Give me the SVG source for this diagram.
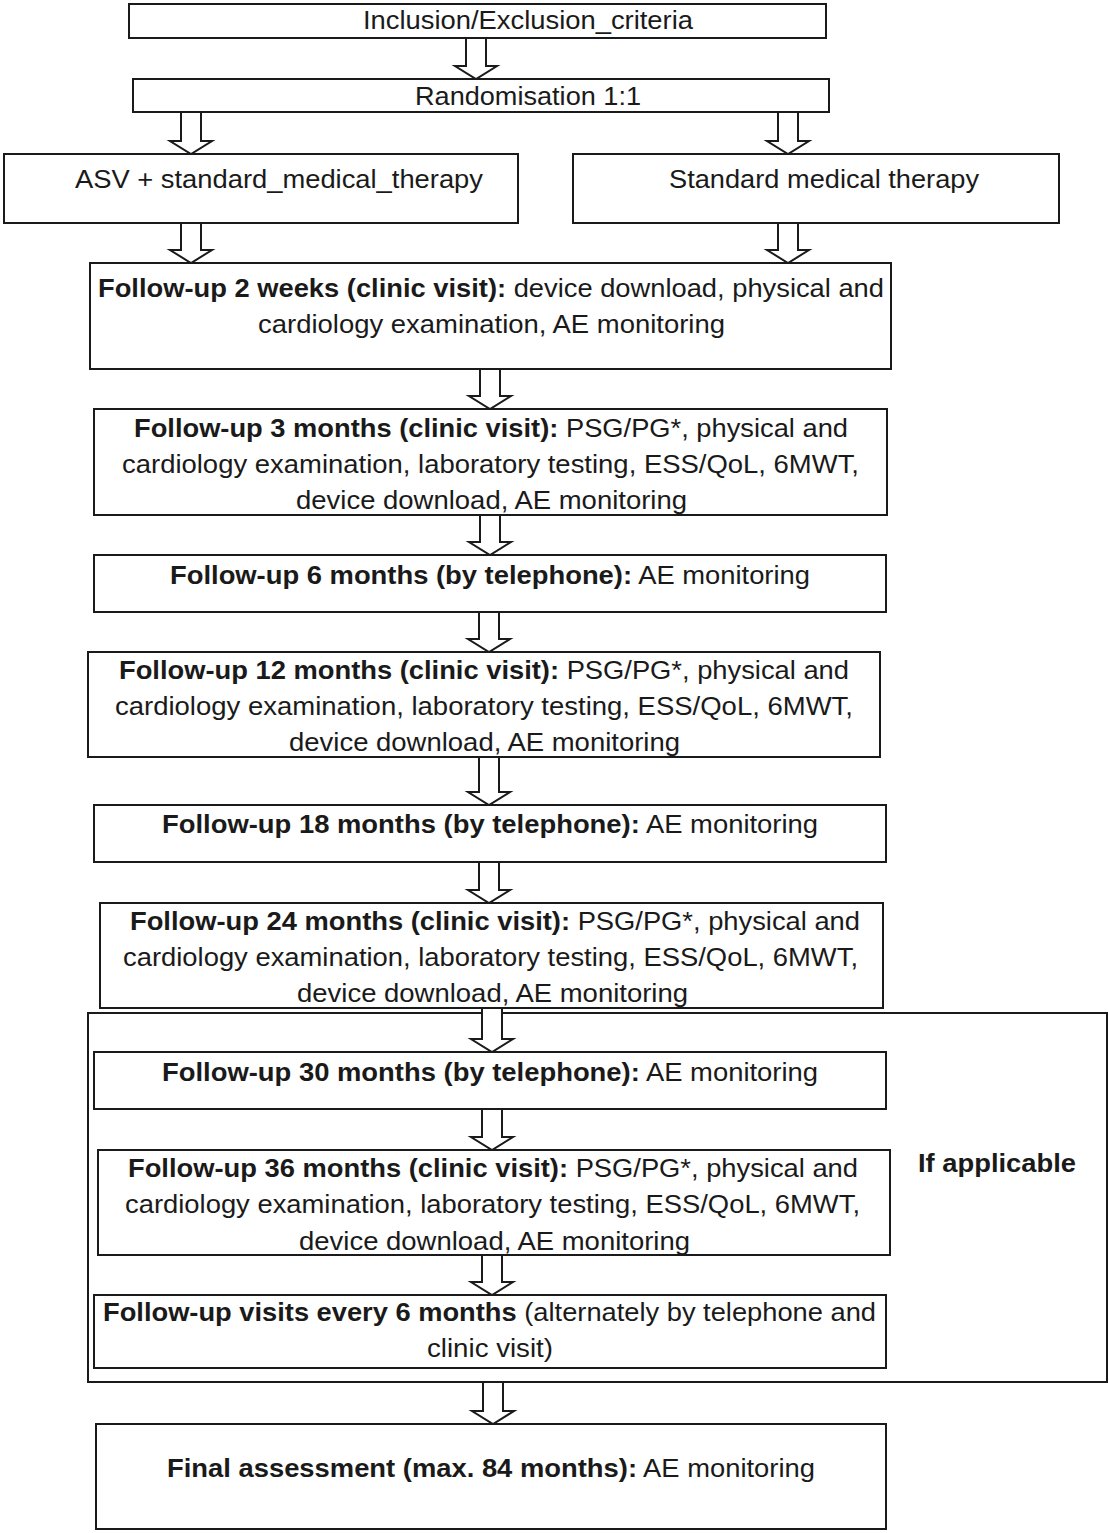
<svg xmlns="http://www.w3.org/2000/svg" width="1109" height="1533" viewBox="0 0 1109 1533">
<style>
.box{fill:#fff;stroke:#1a1a1a;stroke-width:2}
.outer{fill:none;stroke:#1a1a1a;stroke-width:2}
.arr{fill:#fff;stroke:#1a1a1a;stroke-width:2;stroke-linejoin:miter}
text{font-family:"Liberation Sans",Arial,sans-serif;font-size:25px;fill:#1a1a1a}
.b{font-weight:bold}
</style>
<rect width="1109" height="1533" fill="#fff"/>
<g id="group-if-applicable">
<rect class="outer" x="88" y="1013" width="1019" height="369"/>
<text class="b" x="918" y="1172" textLength="158" lengthAdjust="spacingAndGlyphs">If applicable</text>
</g>
<g id="connectors">
<polygon class="arr" points="466,38 486,38 486,66 497,66 476,79 455,66 466,66"/>
<polygon class="arr" points="181,112 201,112 201,141 212,141 191,154 170,141 181,141"/>
<polygon class="arr" points="778,112 798,112 798,141 809,141 788,154 767,141 778,141"/>
<polygon class="arr" points="181,223 201,223 201,250 212,250 191,263 170,250 181,250"/>
<polygon class="arr" points="778,223 798,223 798,250 809,250 788,263 767,250 778,250"/>
<polygon class="arr" points="480,369 500,369 500,396 511,396 490,409 469,396 480,396"/>
<polygon class="arr" points="480,515 500,515 500,542 511,542 490,555 469,542 480,542"/>
<polygon class="arr" points="479,612 499,612 499,639 510,639 489,652 468,639 479,639"/>
<polygon class="arr" points="479,757 499,757 499,792 510,792 489,805 468,792 479,792"/>
<polygon class="arr" points="479,862 499,862 499,890 510,890 489,903 468,890 479,890"/>
<polygon class="arr" points="482,1008 502,1008 502,1039 513,1039 492,1052 471,1039 482,1039"/>
<polygon class="arr" points="482,1109 502,1109 502,1137 513,1137 492,1150 471,1137 482,1137"/>
<polygon class="arr" points="482,1255 502,1255 502,1282 513,1282 492,1295 471,1282 482,1282"/>
<polygon class="arr" points="483,1382 503,1382 503,1411 514,1411 493,1424 472,1411 483,1411"/>
</g>
<g id="node-inclusion">
<rect class="box" x="129" y="4" width="697" height="34"/>
<text x="363" y="29" textLength="330" lengthAdjust="spacingAndGlyphs">Inclusion/Exclusion_criteria</text>
</g>
<g id="node-randomisation">
<rect class="box" x="133" y="79" width="696" height="33"/>
<text x="415" y="105" textLength="226" lengthAdjust="spacingAndGlyphs">Randomisation 1:1</text>
</g>
<g id="node-asv">
<rect class="box" x="4" y="154" width="514" height="69"/>
<text x="75" y="188" textLength="408" lengthAdjust="spacingAndGlyphs">ASV + standard_medical_therapy</text>
</g>
<g id="node-smt">
<rect class="box" x="573" y="154" width="486" height="69"/>
<text x="669" y="188" textLength="310" lengthAdjust="spacingAndGlyphs">Standard medical therapy</text>
</g>
<g id="node-2w">
<rect class="box" x="90" y="263" width="801" height="106"/>
<text x="98" y="297" textLength="786" lengthAdjust="spacingAndGlyphs"><tspan class="b">Follow-up 2 weeks (clinic visit):</tspan> device download, physical and</text>
<text x="258" y="333" textLength="467" lengthAdjust="spacingAndGlyphs">cardiology examination, AE monitoring</text>
</g>
<g id="node-3m">
<rect class="box" x="94" y="409" width="793" height="106"/>
<text x="134" y="437" textLength="714" lengthAdjust="spacingAndGlyphs"><tspan class="b">Follow-up 3 months (clinic visit):</tspan> PSG/PG*, physical and</text>
<text x="122" y="473" textLength="737" lengthAdjust="spacingAndGlyphs">cardiology examination, laboratory testing, ESS/QoL, 6MWT,</text>
<text x="296" y="509" textLength="391" lengthAdjust="spacingAndGlyphs">device download, AE monitoring</text>
</g>
<g id="node-6m">
<rect class="box" x="94" y="555" width="792" height="57"/>
<text x="170" y="584" textLength="640" lengthAdjust="spacingAndGlyphs"><tspan class="b">Follow-up 6 months (by telephone):</tspan> AE monitoring</text>
</g>
<g id="node-12m">
<rect class="box" x="88" y="652" width="792" height="105"/>
<text x="119" y="679" textLength="730" lengthAdjust="spacingAndGlyphs"><tspan class="b">Follow-up 12 months (clinic visit):</tspan> PSG/PG*, physical and</text>
<text x="115" y="715" textLength="738" lengthAdjust="spacingAndGlyphs">cardiology examination, laboratory testing, ESS/QoL, 6MWT,</text>
<text x="289" y="751" textLength="391" lengthAdjust="spacingAndGlyphs">device download, AE monitoring</text>
</g>
<g id="node-18m">
<rect class="box" x="94" y="805" width="792" height="57"/>
<text x="162" y="833" textLength="656" lengthAdjust="spacingAndGlyphs"><tspan class="b">Follow-up 18 months (by telephone):</tspan> AE monitoring</text>
</g>
<g id="node-24m">
<rect class="box" x="100" y="903" width="783" height="105"/>
<text x="130" y="930" textLength="730" lengthAdjust="spacingAndGlyphs"><tspan class="b">Follow-up 24 months (clinic visit):</tspan> PSG/PG*, physical and</text>
<text x="123" y="966" textLength="735" lengthAdjust="spacingAndGlyphs">cardiology examination, laboratory testing, ESS/QoL, 6MWT,</text>
<text x="297" y="1002" textLength="391" lengthAdjust="spacingAndGlyphs">device download, AE monitoring</text>
</g>
<g id="node-30m">
<rect class="box" x="94" y="1052" width="792" height="57"/>
<text x="162" y="1081" textLength="656" lengthAdjust="spacingAndGlyphs"><tspan class="b">Follow-up 30 months (by telephone):</tspan> AE monitoring</text>
</g>
<g id="node-36m">
<rect class="box" x="98" y="1150" width="792" height="105"/>
<text x="128" y="1177" textLength="730" lengthAdjust="spacingAndGlyphs"><tspan class="b">Follow-up 36 months (clinic visit):</tspan> PSG/PG*, physical and</text>
<text x="125" y="1213" textLength="735" lengthAdjust="spacingAndGlyphs">cardiology examination, laboratory testing, ESS/QoL, 6MWT,</text>
<text x="299" y="1250" textLength="391" lengthAdjust="spacingAndGlyphs">device download, AE monitoring</text>
</g>
<g id="node-every6m">
<rect class="box" x="94" y="1295" width="792" height="73"/>
<text x="103" y="1321" textLength="773" lengthAdjust="spacingAndGlyphs"><tspan class="b">Follow-up visits every 6 months</tspan> (alternately by telephone and</text>
<text x="427" y="1357" textLength="126" lengthAdjust="spacingAndGlyphs">clinic visit)</text>
</g>
<g id="node-final">
<rect class="box" x="96" y="1424" width="790" height="105"/>
<text x="167" y="1477" textLength="648" lengthAdjust="spacingAndGlyphs"><tspan class="b">Final assessment (max. 84 months):</tspan> AE monitoring</text>
</g>
</svg>
